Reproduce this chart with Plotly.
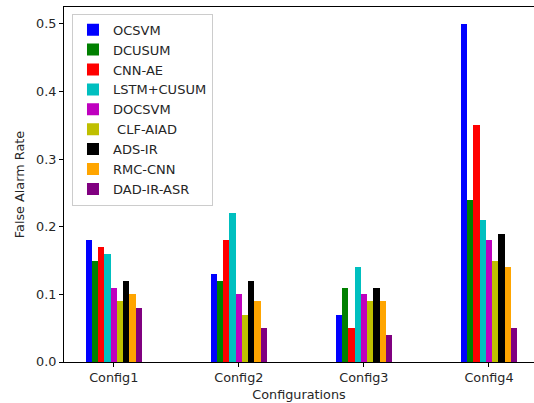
import plotly.graph_objects as go

configs = ["Config1", "Config2", "Config3", "Config4"]
methods = ["OCSVM", "DCUSUM", "CNN-AE", "LSTM+CUSUM", "DOCSVM", " CLF-AIAD", "ADS-IR", "RMC-CNN", "DAD-IR-ASR"]
colors = ["#0000ff", "#008000", "#ff0000", "#00bfbf", "#bf00bf", "#bfbf00", "#000000", "#ffa500", "#800080"]

ocsvm = [0.18, 0.13, 0.07, 0.50]
dcusum = [0.15, 0.12, 0.11, 0.24]
cnn_ae = [0.17, 0.18, 0.05, 0.35]
lstm_cusum = [0.16, 0.22, 0.14, 0.21]
docsvm = [0.11, 0.10, 0.10, 0.18]
clf_aiad = [0.09, 0.07, 0.09, 0.15]
ads_ir = [0.12, 0.12, 0.11, 0.19]
rmc_cnn = [0.10, 0.09, 0.09, 0.14]
dad_ir_asr = [0.08, 0.05, 0.04, 0.05]

series = [ocsvm, dcusum, cnn_ae, lstm_cusum, docsvm, clf_aiad, ads_ir, rmc_cnn, dad_ir_asr]
bar_w = 0.05

fig = go.Figure()
n = len(methods)
for i, (name, vals, col) in enumerate(zip(methods, series, colors)):
    xs = [k + (i - (n - 1) / 2) * bar_w for k in range(len(configs))]
    fig.add_trace(go.Bar(x=xs, y=vals, name=name, width=bar_w,
                         marker=dict(color=col, line=dict(width=0))))

font = "DejaVu Sans"
fs = 12.8
fig.update_layout(
    width=534, height=403,
    margin=dict(l=64, r=0, t=7, b=41),
    paper_bgcolor="white", plot_bgcolor="white",
    font=dict(family=font, size=fs, color="#262626"),
    showlegend=True,
    legend=dict(x=0.017, y=0.981, xanchor="left", yanchor="top",
                bgcolor="rgba(255,255,255,0.9)", bordercolor="#cccccc", borderwidth=1,
                font=dict(family=font, size=13, color="#262626"),
                tracegroupgap=0, itemwidth=30),
    bargap=0,
)
fig.update_xaxes(
    automargin=False,
    range=[-0.3975, 3.36], tickmode="array", tickvals=list(range(len(configs))),
    ticktext=configs, showgrid=False, zeroline=False,
    showline=True, linecolor="#000000", linewidth=1, mirror=True,
    ticks="outside", ticklen=4, tickcolor="#000000",
    title=dict(text="Configurations", font=dict(family=font, size=fs, color="#262626"), standoff=5),
)
fig.update_yaxes(
    automargin=False,
    range=[0, 0.525], tickvals=[0, 0.1, 0.2, 0.3, 0.4, 0.5], tickformat=".1f",
    showgrid=False, zeroline=False,
    showline=True, linecolor="#000000", linewidth=1,
    ticks="outside", ticklen=4, tickcolor="#000000",
    title=dict(text="False Alarm Rate", font=dict(family=font, size=fs, color="#262626"), standoff=8),
)
fig.write_html("out.html", config={"displayModeBar": False},
               post_script="document.body.style.margin='0';document.body.style.overflow='hidden';")
